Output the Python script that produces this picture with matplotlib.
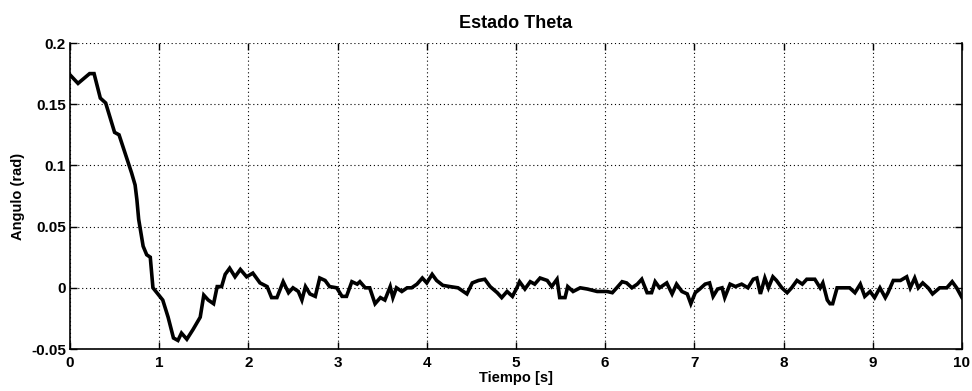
import matplotlib
matplotlib.use("Agg")
import matplotlib.pyplot as plt

t = [0.0, 0.09, 0.22, 0.27, 0.34, 0.40, 0.50, 0.55, 0.64, 0.69, 0.73, 0.75,
     0.77, 0.82, 0.86, 0.90, 0.93, 1.04, 1.10, 1.16, 1.21, 1.25, 1.31, 1.38,
     1.46, 1.50, 1.55, 1.61, 1.65, 1.70, 1.74, 1.79, 1.85, 1.91, 1.98, 2.05,
     2.13, 2.21, 2.26, 2.32, 2.39, 2.45, 2.50, 2.56, 2.60, 2.64, 2.69, 2.75,
     2.80, 2.86, 2.91, 2.99, 3.05, 3.10, 3.16, 3.22, 3.25, 3.31, 3.36, 3.42,
     3.48, 3.53, 3.59, 3.62, 3.66, 3.72, 3.78, 3.83, 3.89, 3.95, 4.00, 4.06,
     4.11, 4.18, 4.26, 4.35, 4.45, 4.51, 4.58, 4.65, 4.71, 4.79, 4.84, 4.90,
     4.96, 5.01, 5.04, 5.10, 5.16, 5.21, 5.27, 5.35, 5.40, 5.46, 5.49, 5.55,
     5.58, 5.64, 5.72, 5.80, 5.91, 6.02, 6.08, 6.13, 6.19, 6.24, 6.30, 6.36,
     6.41, 6.47, 6.52, 6.56, 6.61, 6.69, 6.75, 6.80, 6.86, 6.92, 6.96, 7.01,
     7.06, 7.12, 7.17, 7.21, 7.26, 7.31, 7.34, 7.40, 7.46, 7.53, 7.60, 7.66,
     7.70, 7.74, 7.79, 7.83, 7.88, 7.92, 7.98, 8.04, 8.09, 8.15, 8.21, 8.26,
     8.35, 8.41, 8.44, 8.49, 8.52, 8.55, 8.60, 8.67, 8.74, 8.80, 8.86, 8.91,
     8.97, 9.02, 9.08, 9.14, 9.17, 9.23, 9.31, 9.38, 9.42, 9.47, 9.51, 9.56,
     9.62, 9.67, 9.75, 9.83, 9.89, 9.94, 10.0]
theta = [0.174, 0.167, 0.175, 0.175, 0.155, 0.151, 0.127, 0.125, 0.105, 0.094, 0.084, 0.072,
         0.056, 0.034, 0.027, 0.025, 0.000, -0.010, -0.024, -0.041, -0.043, -0.037, -0.042, -0.034,
         -0.024, -0.006, -0.010, -0.013, 0.001, 0.001, 0.011, 0.016, 0.009, 0.015, 0.009, 0.012,
         0.004, 0.001, -0.008, -0.008, 0.005, -0.004, 0.000, -0.003, -0.010, 0.001, -0.005, -0.007,
         0.008, 0.006, 0.001, 0.000, -0.007, -0.007, 0.005, 0.003, 0.005, 0.000, 0.000, -0.013,
         -0.008, -0.010, 0.001, -0.008, 0.000, -0.003, 0.000, 0.000, 0.003, 0.008, 0.004, 0.011,
         0.006, 0.002, 0.001, 0.000, -0.005, 0.004, 0.006, 0.007, 0.001, -0.004, -0.008, -0.003,
         -0.007, 0.000, 0.005, -0.001, 0.005, 0.003, 0.008, 0.006, 0.001, 0.007, -0.008, -0.008,
         0.001, -0.003, 0.000, -0.001, -0.003, -0.003, -0.004, 0.000, 0.005, 0.004, 0.000, 0.003,
         0.007, -0.004, -0.004, 0.005, 0.000, 0.004, -0.005, 0.003, -0.003, -0.005, -0.013, -0.004,
         -0.001, 0.003, 0.004, -0.007, -0.001, 0.000, -0.008, 0.003, 0.001, 0.003, 0.000, 0.007,
         0.008, -0.005, 0.008, 0.000, 0.009, 0.006, 0.000, -0.004, 0.000, 0.006, 0.003, 0.007,
         0.007, 0.000, 0.004, -0.010, -0.013, -0.013, 0.000, 0.000, 0.000, -0.004, 0.003, -0.007,
         -0.003, -0.008, 0.000, -0.008, -0.004, 0.006, 0.006, 0.009, 0.000, 0.008, 0.000, 0.004,
         0.000, -0.005, 0.000, 0.000, 0.005, 0.000, -0.008]

xticks = [0, 1, 2, 3, 4, 5, 6, 7, 8, 9, 10]
yticks = [-0.05, 0, 0.05, 0.1, 0.15, 0.2]
ytick_labels = ["-0.05", "0", "0.05", "0.1", "0.15", "0.2"]

plt.rcParams['font.family'] = ['Liberation Sans', 'DejaVu Sans']
fig = plt.figure(figsize=(9.72, 3.91), dpi=100)
ax = fig.add_axes([0.072, 0.1074, 0.9177, 0.7826])
ax.plot(t, theta, color='black', lw=2.6, solid_joinstyle='miter')
ax.set_xlim(0, 10)
ax.set_ylim(-0.05, 0.2)
ax.set_xticks(xticks)
ax.set_xticklabels([str(v) for v in xticks])
ax.set_yticks(yticks)
ax.set_yticklabels(ytick_labels)
ax.grid(True, color='black', linestyle=(0, (1, 2.5)), linewidth=0.8)
ax.tick_params(direction='in', top=True, right=True, length=5, width=1,
               labelsize=11, pad=3)
ax.tick_params(axis='x', pad=5)
for lab in ax.get_xticklabels() + ax.get_yticklabels():
    lab.set_fontweight('bold')
ax.spines['top'].set_visible(False)
for s in ['left', 'right', 'bottom']:
    ax.spines[s].set_linewidth(1.2)
ax.set_title('Estado Theta', fontsize=13, fontweight='bold', pad=11)
ax.set_xlabel('Tiempo [s]', fontsize=10.5, fontweight='bold', labelpad=1)
ax.set_ylabel('Angulo (rad)', fontsize=10.5, fontweight='bold', labelpad=4)
fig.savefig('out.png', dpi=100)
